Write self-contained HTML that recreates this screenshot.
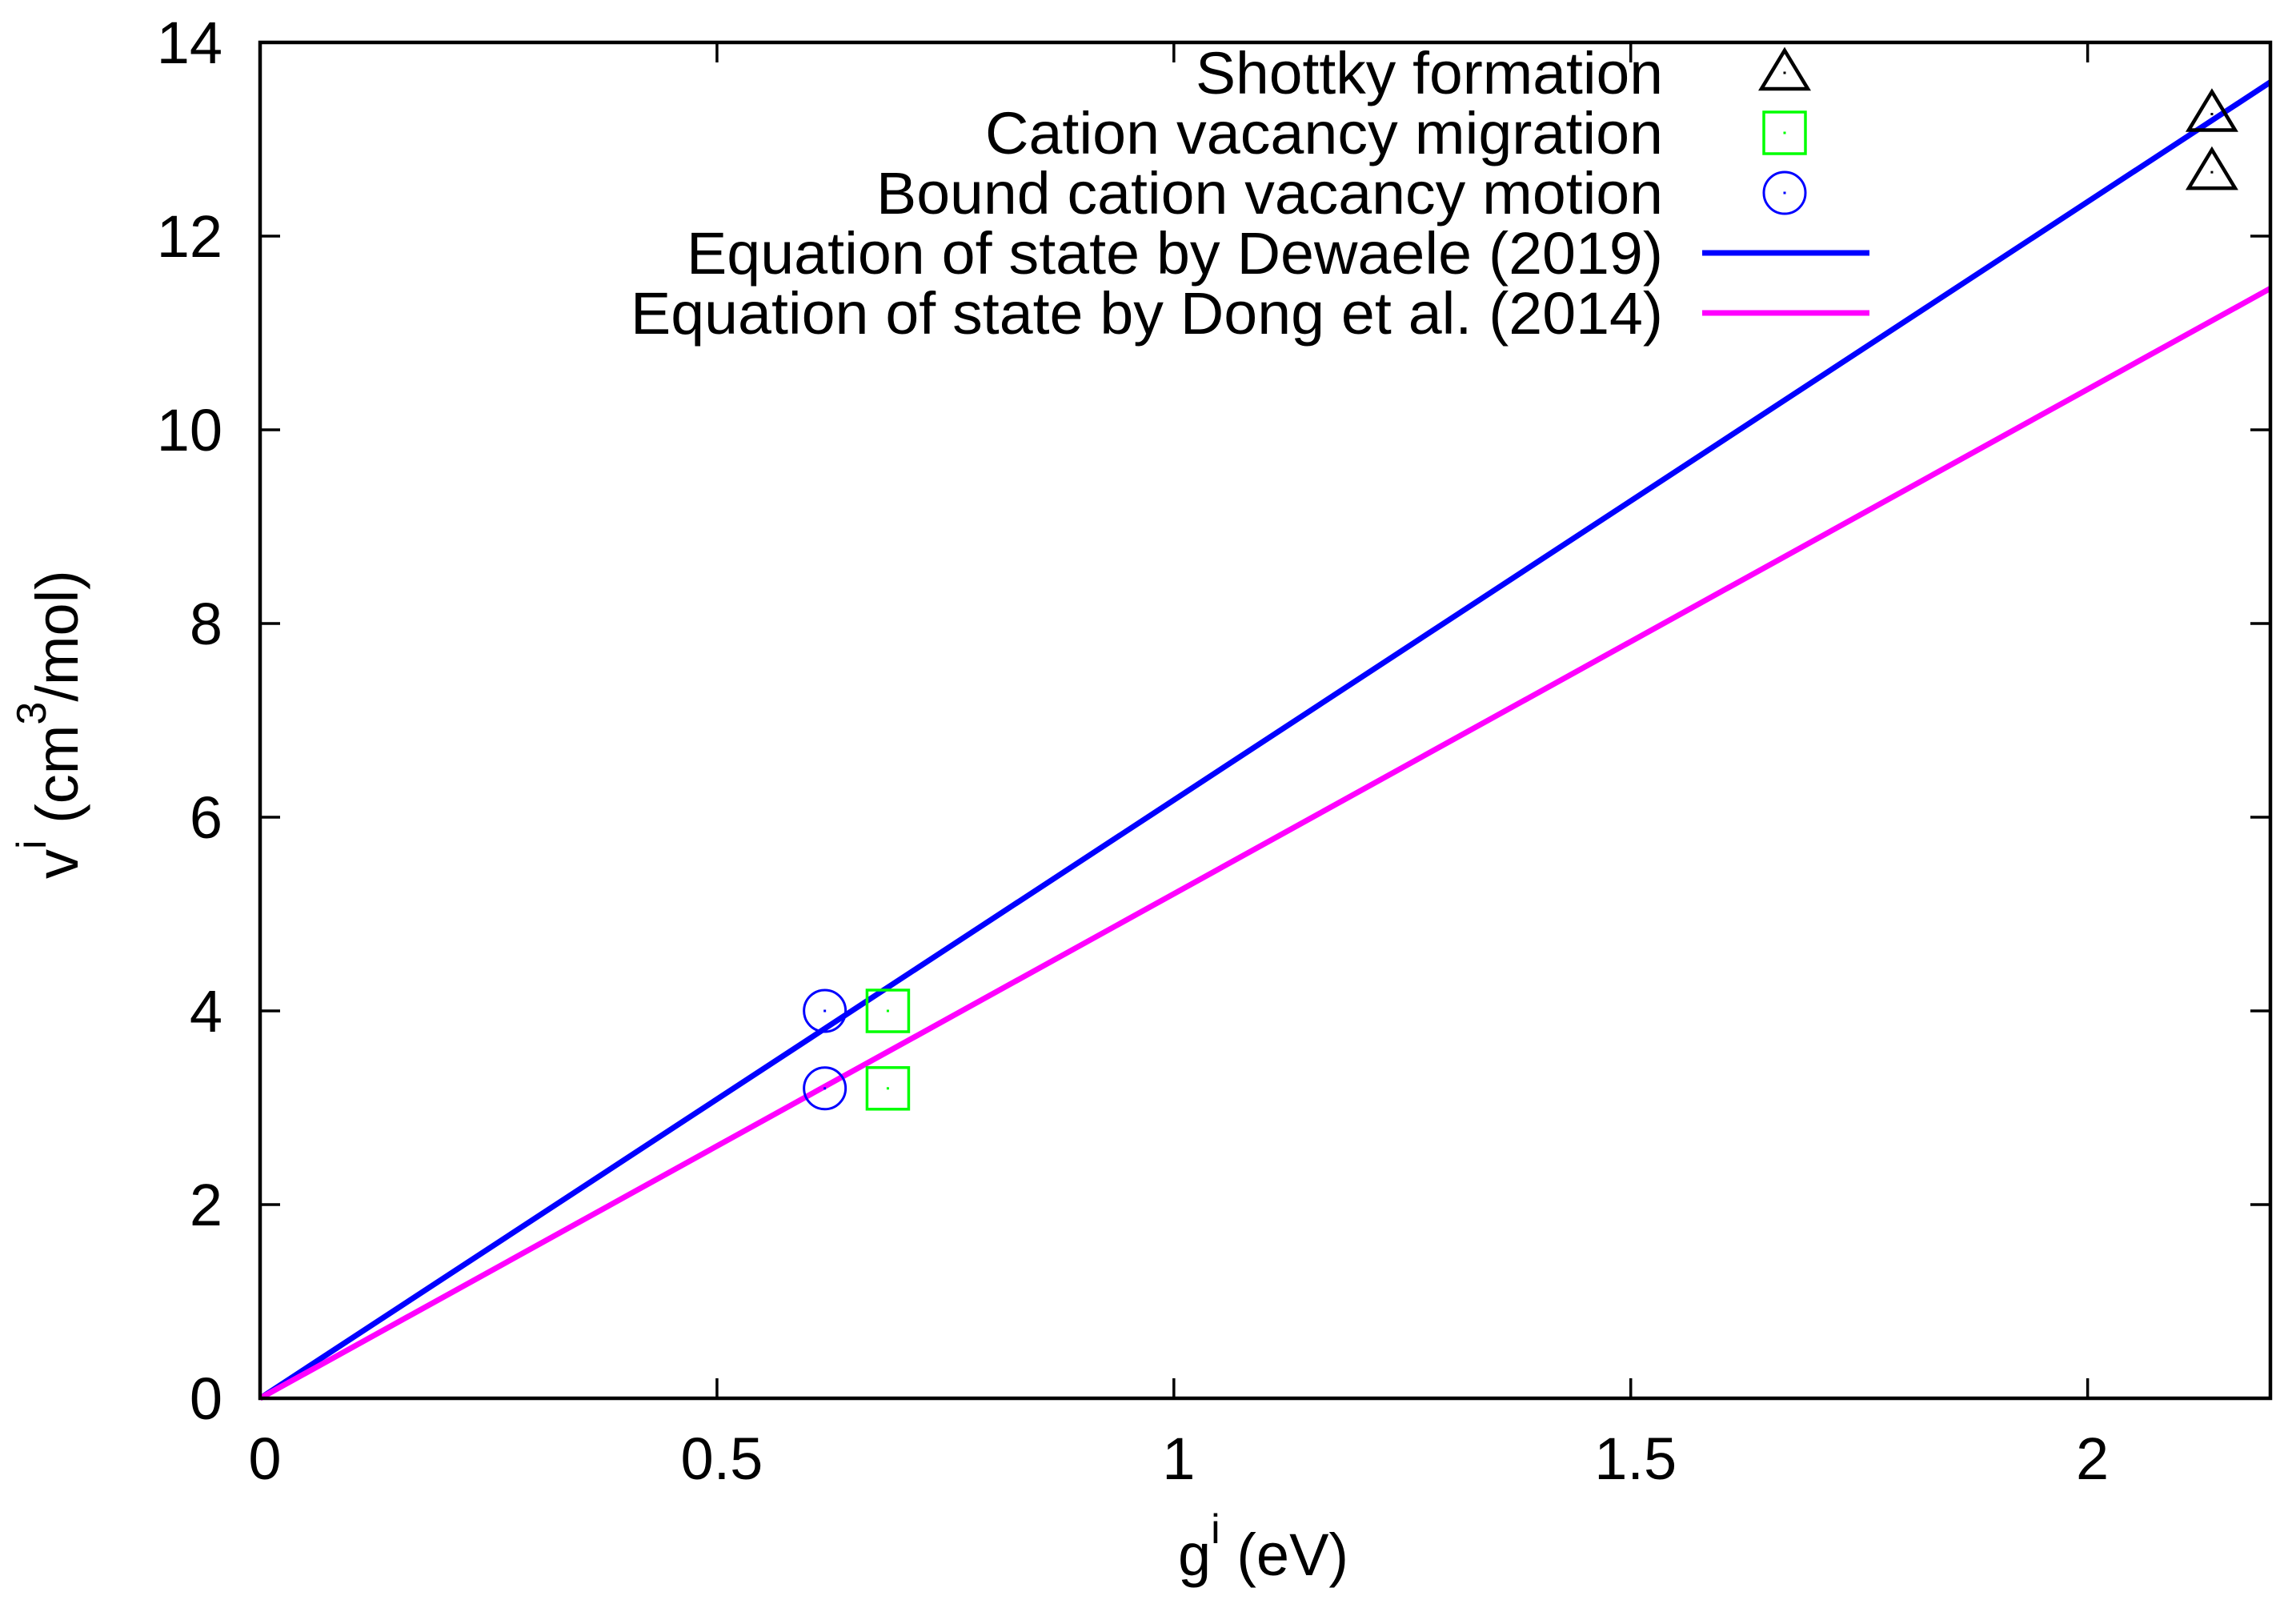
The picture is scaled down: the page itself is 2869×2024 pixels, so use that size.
<!DOCTYPE html>
<html><head><meta charset="utf-8"><style>
html,body{margin:0;padding:0;background:#fff;}
svg text{font-family:"Liberation Sans",sans-serif;}
</style></head><body>
<svg id="chart" width="2869" height="2019" viewBox="0 0 2869 2019" xmlns="http://www.w3.org/2000/svg">
<rect width="2869" height="2019" fill="#fff"/>
<g id="plot"></g>
</svg>
<script>
const xTicks=[0,0.5,1,1.5,2];
const xTickLabels=["0","0.5","1","1.5","2"];
const yTicks=[0,2,4,6,8,10,12,14];
const yTickLabels=["0","2","4","6","8","10","12","14"];
const shottkyG=[2.136,2.136];
const shottkyV=[13.26,12.66];
const cationG=[0.687,0.687];
const cationV=[4.0,3.2];
const boundG=[0.618,0.618];
const boundV=[4.0,3.2];
const dewaeleG=[0,2.2];
const dewaeleV=[0,13.59];
const dongG=[0,2.2];
const dongV=[0,11.46];

const L=325,R=2837,T=53,B=1747,XMAX=2.2,YMAX=14;
const sx=v=>L+(R-L)*v/XMAX;
const sy=v=>B-(B-T)*v/YMAX;
const NS="http://www.w3.org/2000/svg";
const g=document.getElementById('plot');
function mk(tag,attrs,parent){const e=document.createElementNS(NS,tag);for(const k in attrs)e.setAttribute(k,attrs[k]);(parent||g).appendChild(e);return e;}

function line(xs,ys,color,name){
  const p=mk('polyline',{points:xs.map((x,i)=>sx(x)+','+sy(ys[i])).join(' '),fill:'none',stroke:color,'stroke-width':7});
  
  
}
line(dewaeleG,dewaeleV,'#0000ff','dewaele-line');
line(dongG,dongV,'#ff00ff','dong-line');

function tri(cx,cy,name){
  const p=mk('path',{d:`M${cx},${cy-28} L${cx+29},${cy+20} L${cx-29},${cy+20} Z`,fill:'none',stroke:'#000','stroke-width':4.5});
  
  
  mk('rect',{x:cx-1.5,y:cy-1.5,width:3,height:3,fill:'#000'});
}
function sq(cx,cy,name){
  const p=mk('rect',{x:cx-26,y:cy-26,width:52,height:52,fill:'none',stroke:'#00ff00','stroke-width':3.5});
  
  
  mk('rect',{x:cx-1.5,y:cy-1.5,width:3,height:3,fill:'#00ff00'});
}
function circ(cx,cy,name){
  const p=mk('circle',{cx:cx,cy:cy,r:26,fill:'none',stroke:'#0000ff','stroke-width':3});
  
  
  mk('rect',{x:cx-1.5,y:cy-1.5,width:3,height:3,fill:'#0000ff'});
}
shottkyG.forEach((x,i)=>tri(sx(x),sy(shottkyV[i]),'shottky-point'));
cationG.forEach((x,i)=>sq(sx(x),sy(cationV[i]),'cation-migration-point'));
boundG.forEach((x,i)=>circ(sx(x),sy(boundV[i]),'bound-vacancy-point'));

const fr=mk('rect',{x:L,y:T,width:R-L,height:B-T,fill:'none',stroke:'#000','stroke-width':4.5});


xTicks.forEach((v,i)=>{
  const x=sx(v);
  mk('line',{x1:x,y1:B,x2:x,y2:B-25,stroke:'#000','stroke-width':3.5});
  mk('line',{x1:x,y1:T,x2:x,y2:T+25,stroke:'#000','stroke-width':3.5});
  const t=mk('text',{x:x+6,y:1848,'font-size':74,'text-anchor':'middle'});
  t.textContent=xTickLabels[i];
  
  
});
yTicks.forEach((v,i)=>{
  const y=sy(v);
  mk('line',{x1:L,y1:y,x2:L+25,y2:y,stroke:'#000','stroke-width':3.5});
  mk('line',{x1:R,y1:y,x2:R-25,y2:y,stroke:'#000','stroke-width':3.5});
  const t=mk('text',{x:278,y:y+26,'font-size':74,'text-anchor':'end'});
  t.textContent=yTickLabels[i];
  
  
});

const xt=mk('text',{x:1472,y:1968,'font-size':74});
xt.innerHTML='g<tspan font-size="52" dy="-40">i</tspan><tspan dy="40"> (eV)</tspan>';


const yt=mk('text',{x:0,y:0,'font-size':74,transform:'translate(97,1098) rotate(-90)'});
yt.innerHTML='v<tspan font-size="52" dy="-40">i</tspan><tspan dy="40"> (cm</tspan><tspan font-size="52" dy="-40">3</tspan><tspan dy="40">/mol)</tspan>';



const legTexts=["Shottky formation","Cation vacancy migration","Bound cation vacancy motion","Equation of state by Dewaele (2019)","Equation of state by Dong et al. (2014)"];
const legW=[584,847,983,1220,1290];
legTexts.forEach((s,i)=>{
  const base=117+75*i;
  const t=mk('text',{x:2078,y:base,'font-size':74,'text-anchor':'end',textLength:legW[i],lengthAdjust:'spacingAndGlyphs'});
  t.textContent=s;
  
  
  const cy=base-26;
  if(i===0)tri(2230,cy,'legend-shottky-symbol');
  if(i===1)sq(2230,cy,'legend-cation-symbol');
  if(i===2)circ(2230,cy,'legend-bound-symbol');
  if(i>=3){
    const l=mk('line',{x1:2127,y1:cy,x2:2336,y2:cy,stroke:i===3?'#0000ff':'#ff00ff','stroke-width':7});
    
    
  }
});
</script>
</body></html>
